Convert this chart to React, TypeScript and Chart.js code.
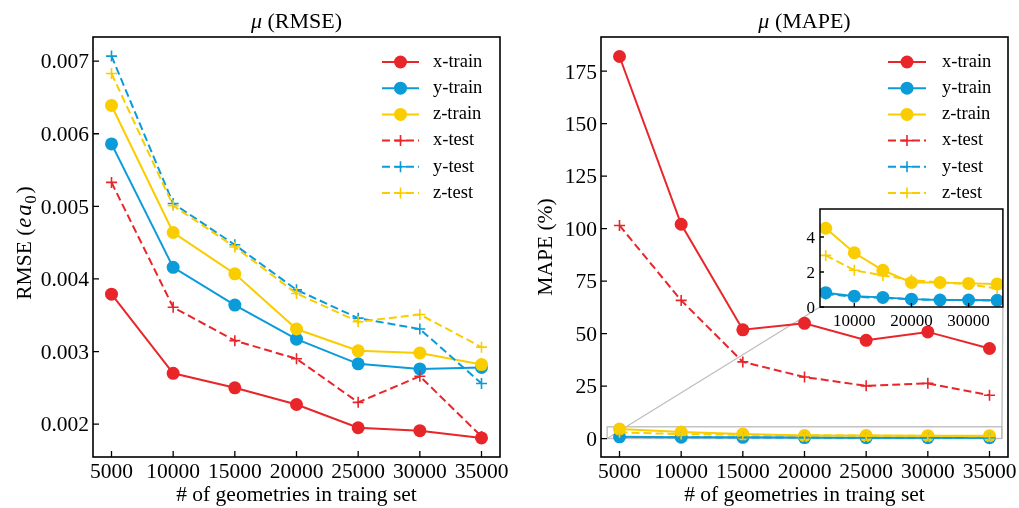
import React, { useEffect, useRef } from 'react';
import { Chart, registerables } from 'chart.js';

Chart.register(...registerables);

// ---------------- data ----------------
const TRAIN_SIZES = [5000, 10000, 15000, 20000, 25000, 30000, 35000];
const SERIES_LABELS = ['x-train', 'y-train', 'z-train', 'x-test', 'y-test', 'z-test'];
const SERIES_COLORS = ['#e8262a', '#0a9bd8', '#f9cd00'];

const RMSE_X_TRAIN = [0.00379, 0.0027, 0.0025, 0.00227, 0.00195, 0.00191, 0.00181];
const RMSE_Y_TRAIN = [0.00586, 0.00416, 0.00364, 0.00317, 0.00283, 0.00276, 0.00278];
const RMSE_Z_TRAIN = [0.00639, 0.00464, 0.00407, 0.00331, 0.00301, 0.00298, 0.00282];
const RMSE_X_TEST = [0.00533, 0.00361, 0.00315, 0.0029, 0.0023, 0.00266, 0.00183];
const RMSE_Y_TEST = [0.00707, 0.00504, 0.00447, 0.00385, 0.00346, 0.00331, 0.00256];
const RMSE_Z_TEST = [0.00683, 0.00501, 0.00444, 0.0038, 0.00341, 0.00351, 0.00306];

const MAPE_X_TRAIN = [182.0, 102.1, 51.8, 54.9, 46.8, 50.8, 42.9];
const MAPE_Y_TRAIN = [0.82, 0.62, 0.55, 0.45, 0.4, 0.4, 0.38];
const MAPE_Z_TRAIN = [4.5, 3.1, 2.1, 1.4, 1.4, 1.35, 1.32];
const MAPE_X_TEST = [101.5, 65.8, 36.5, 29.3, 25.1, 26.3, 20.6];
const MAPE_Y_TEST = [0.75, 0.58, 0.52, 0.44, 0.4, 0.4, 0.36];
const MAPE_Z_TEST = [2.95, 2.1, 1.8, 1.55, 1.4, 1.3, 1.05];

const RMSE_SERIES = [RMSE_X_TRAIN, RMSE_Y_TRAIN, RMSE_Z_TRAIN, RMSE_X_TEST, RMSE_Y_TEST, RMSE_Z_TEST];
const MAPE_SERIES = [MAPE_X_TRAIN, MAPE_Y_TRAIN, MAPE_Z_TRAIN, MAPE_X_TEST, MAPE_Y_TEST, MAPE_Z_TEST];

const X_TICKS = [5000, 10000, 15000, 20000, 25000, 30000, 35000];
const RMSE_Y_TICKS = [0.002, 0.003, 0.004, 0.005, 0.006, 0.007];
const MAPE_Y_TICKS = [0, 25, 50, 75, 100, 125, 150, 175];
const INSET_X_TICKS = [10000, 20000, 30000];
const INSET_Y_TICKS = [0, 2, 4];

const MAIN_X_RANGE: [number, number] = [3500, 36500];
const RMSE_Y_RANGE: [number, number] = [0.001547, 0.007333];
const MAPE_Y_RANGE: [number, number] = [-8.8, 191.3];
const INSET_X_RANGE: [number, number] = [4000, 36000];
const INSET_Y_RANGE: [number, number] = [0, 5.6];

const X_LABEL = '# of geometries in traing set';

// ---------------- helpers ----------------
const SERIF = "'Liberation Serif', 'DejaVu Serif', serif";

type Part = { text: string; italic?: boolean; size?: number; dy?: number; gap?: number };

const RMSE_TITLE: Part[] = [{ text: 'μ', italic: true }, { text: ' (RMSE)' }];
const MAPE_TITLE: Part[] = [{ text: 'μ', italic: true }, { text: ' (MAPE)' }];
const RMSE_Y_LABEL: Part[] = [
  { text: 'RMSE (', gap: 1 },
  { text: 'e', italic: true, size: 22.5, gap: 2 },
  { text: 'a', italic: true, size: 22.5, gap: 1 },
  { text: '0', size: 16, dy: 5, gap: 2 },
  { text: ')' },
];
const MAPE_Y_LABEL: Part[] = [{ text: 'MAPE (%)' }];

function partFont(p: Part, base: number) {
  return `${p.italic ? 'italic ' : ''}${p.size ?? base}px ${SERIF}`;
}

function drawParts(ctx: CanvasRenderingContext2D, parts: Part[], base: number, cx: number, by: number) {
  let total = 0;
  const widths = parts.map((p) => {
    ctx.font = partFont(p, base);
    const w = ctx.measureText(p.text).width + (p.gap ?? 0);
    total += w;
    return w;
  });
  let x = cx - total / 2;
  ctx.textAlign = 'left';
  ctx.textBaseline = 'alphabetic';
  parts.forEach((p, i) => {
    ctx.font = partFont(p, base);
    ctx.fillText(p.text, x, by + (p.dy ?? 0));
    x += widths[i];
  });
}

function drawMarker(ctx: CanvasRenderingContext2D, style: string, x: number, y: number, r: number, color: string, lw: number) {
  ctx.save();
  ctx.setLineDash([]);
  if (style === 'circle') {
    ctx.fillStyle = color;
    ctx.beginPath();
    ctx.arc(x, y, r, 0, Math.PI * 2);
    ctx.fill();
  } else {
    ctx.strokeStyle = color;
    ctx.lineWidth = lw;
    ctx.beginPath();
    ctx.moveTo(x - r, y);
    ctx.lineTo(x + r, y);
    ctx.moveTo(x, y - r);
    ctx.lineTo(x, y + r);
    ctx.stroke();
  }
  ctx.restore();
}

interface PanelCfg {
  axisW: number;
  top: number;
  padRight: number;
  xAxisH: number;
  xRange: [number, number];
  yRange: [number, number];
  xTicks: number[];
  yTicks: number[];
  xFmt: (v: number) => string;
  yFmt: (v: number) => string;
  fontSize: number;
  tickLen: number;
  frameWidth: number;
  xTickBaseline: number;
  yTickGap: number;
  title?: { parts: Part[]; size: number; baseline: number };
  xTitle?: { text: string; size: number; baseline: number };
  yTitle?: { parts: Part[]; size: number; x: number; dyCenter?: number };
  legend?: { handleFromRight: number; handleLen: number; textFromRight: number; firstRow: number; rowGap: number; size: number };
  fillArea?: boolean;
  zoom?: { x: [number, number]; y: [number, number]; corners: () => { bl: [number, number]; br: [number, number] } | null };
  point: { r: number; cr: number; clip?: number };
}

function decorPlugin(cfg: PanelCfg) {
  return {
    id: 'decor',
    beforeDatasetsDraw(chart: any) {
      const ctx: CanvasRenderingContext2D = chart.ctx;
      const a = chart.chartArea;
      if (cfg.fillArea) {
        ctx.save();
        ctx.fillStyle = '#ffffff';
        ctx.fillRect(a.left, a.top, a.right - a.left, a.bottom - a.top);
        ctx.restore();
      }
      if (cfg.zoom) {
        const xs = chart.scales.x;
        const ys = chart.scales.y;
        const x0 = xs.getPixelForValue(cfg.zoom.x[0]);
        const x1 = xs.getPixelForValue(cfg.zoom.x[1]);
        const y0 = ys.getPixelForValue(cfg.zoom.y[0]);
        const y1 = ys.getPixelForValue(cfg.zoom.y[1]);
        ctx.save();
        ctx.strokeStyle = '#bfbfbf';
        ctx.lineWidth = 1.4;
        ctx.strokeRect(x0, y1, x1 - x0, y0 - y1);
        const c = cfg.zoom.corners();
        if (c) {
          ctx.beginPath();
          ctx.moveTo(x0, y0);
          ctx.lineTo(c.bl[0], c.bl[1]);
          ctx.moveTo(x1, y0);
          ctx.lineTo(c.br[0], c.br[1]);
          ctx.stroke();
        }
        ctx.restore();
      }
    },
    afterDraw(chart: any) {
      const ctx: CanvasRenderingContext2D = chart.ctx;
      const a = chart.chartArea;
      const xs = chart.scales.x;
      const ys = chart.scales.y;
      ctx.save();
      // frame
      ctx.strokeStyle = '#000';
      ctx.lineWidth = cfg.frameWidth;
      ctx.strokeRect(a.left, a.top, a.right - a.left, a.bottom - a.top);
      // inward ticks
      ctx.lineWidth = 1.3;
      ctx.beginPath();
      cfg.xTicks.forEach((v) => {
        const px = xs.getPixelForValue(v);
        ctx.moveTo(px, a.bottom);
        ctx.lineTo(px, a.bottom - cfg.tickLen);
      });
      cfg.yTicks.forEach((v) => {
        const py = ys.getPixelForValue(v);
        ctx.moveTo(a.left, py);
        ctx.lineTo(a.left + cfg.tickLen, py);
      });
      ctx.stroke();
      // tick labels
      ctx.fillStyle = '#000';
      ctx.font = `${cfg.fontSize}px ${SERIF}`;
      ctx.textBaseline = 'alphabetic';
      ctx.textAlign = 'center';
      cfg.xTicks.forEach((v) => {
        ctx.fillText(cfg.xFmt(v), xs.getPixelForValue(v), a.bottom + cfg.xTickBaseline);
      });
      ctx.textAlign = 'right';
      cfg.yTicks.forEach((v) => {
        ctx.fillText(cfg.yFmt(v), a.left - cfg.yTickGap, ys.getPixelForValue(v) + 0.34 * cfg.fontSize);
      });
      // titles
      const cx = (a.left + a.right) / 2;
      const cy = (a.top + a.bottom) / 2;
      if (cfg.title) drawParts(ctx, cfg.title.parts, cfg.title.size, cx, cfg.title.baseline);
      if (cfg.xTitle) {
        ctx.font = `${cfg.xTitle.size}px ${SERIF}`;
        ctx.textAlign = 'center';
        ctx.fillText(cfg.xTitle.text, cx, cfg.xTitle.baseline);
      }
      if (cfg.yTitle) {
        ctx.save();
        ctx.translate(cfg.yTitle.x, cy + (cfg.yTitle.dyCenter ?? 0));
        ctx.rotate(-Math.PI / 2);
        drawParts(ctx, cfg.yTitle.parts, cfg.yTitle.size, 0, 0);
        ctx.restore();
      }
      // legend
      if (cfg.legend) {
        const L = cfg.legend;
        chart.data.datasets.forEach((ds: any, i: number) => {
          const y = a.top + L.firstRow + i * L.rowGap;
          const x0 = a.right - L.handleFromRight;
          const x1 = x0 + L.handleLen;
          ctx.save();
          ctx.strokeStyle = ds.borderColor;
          ctx.lineWidth = ds.borderWidth;
          ctx.setLineDash(ds.borderDash || []);
          ctx.beginPath();
          ctx.moveTo(x0, y);
          ctx.lineTo(x1, y);
          ctx.stroke();
          ctx.restore();
          drawMarker(ctx, ds.pointStyle, (x0 + x1) / 2, y, ds.pointRadius, ds.borderColor, ds.pointBorderWidth || 1.6);
          ctx.fillStyle = '#000';
          ctx.font = `${L.size}px ${SERIF}`;
          ctx.textAlign = 'left';
          ctx.textBaseline = 'alphabetic';
          ctx.fillText(ds.label, a.right - L.textFromRight, y + 0.26 * L.size);
        });
      }
      ctx.restore();
    },
  };
}

function makeDatasets(series: number[][], point: { r: number; cr: number; clip?: number }) {
  const n = SERIES_LABELS.length;
  return SERIES_LABELS.map((label, i) => {
    const test = i >= 3;
    const color = SERIES_COLORS[i % 3];
    const ds: any = {
      label,
      data: TRAIN_SIZES.map((x, j) => ({ x, y: series[i][j] })),
      borderColor: color,
      backgroundColor: color,
      borderWidth: 2,
      borderDash: test ? [8, 4] : [],
      pointStyle: test ? 'cross' : 'circle',
      pointRadius: test ? point.cr : point.r,
      pointBorderWidth: test ? 1.6 : 0,
      pointBorderColor: color,
      pointBackgroundColor: color,
      pointHoverRadius: test ? point.cr : point.r,
      tension: 0,
      fill: false,
      order: n - i,
    };
    if (point.clip !== undefined) ds.clip = point.clip;
    return ds;
  });
}

function buildConfig(cfg: PanelCfg, series: number[][]): any {
  return {
    type: 'line',
    data: { datasets: makeDatasets(series, cfg.point) },
    options: {
      responsive: false,
      animation: false,
      devicePixelRatio: 1,
      events: [],
      layout: { padding: { left: 0, top: cfg.top, right: cfg.padRight, bottom: 0 } },
      plugins: { legend: { display: false }, title: { display: false }, tooltip: { enabled: false } },
      scales: {
        x: {
          type: 'linear',
          position: 'bottom',
          min: cfg.xRange[0],
          max: cfg.xRange[1],
          grid: { display: false },
          border: { display: false },
          ticks: { display: false },
          afterBuildTicks: (s: any) => {
            s.ticks = cfg.xTicks.map((v) => ({ value: v }));
          },
          afterFit: (s: any) => {
            s.height = cfg.xAxisH;
            s.paddingLeft = 0;
            s.paddingRight = 0;
            s.paddingTop = 0;
            s.paddingBottom = 0;
          },
        },
        y: {
          type: 'linear',
          position: 'left',
          min: cfg.yRange[0],
          max: cfg.yRange[1],
          grid: { display: false },
          border: { display: false },
          ticks: { display: false },
          afterBuildTicks: (s: any) => {
            s.ticks = cfg.yTicks.map((v) => ({ value: v }));
          },
          afterFit: (s: any) => {
            s.width = cfg.axisW;
            s.paddingLeft = 0;
            s.paddingRight = 0;
            s.paddingTop = 0;
            s.paddingBottom = 0;
          },
        },
      },
    },
    plugins: [decorPlugin(cfg)],
  };
}

// ---------------- layout ----------------
const W = 1019;
const H = 508;
const LEFT_BOX = { left: 0, top: 0, width: 509, height: 508 };
const RIGHT_BOX = { left: 509, top: 0, width: 510, height: 508 };
const INSET_BOX = { left: 790, top: 200, width: 220, height: 140 };

const MAIN_COMMON = {
  top: 37,
  xAxisH: 51,
  fontSize: 21.5,
  tickLen: 6,
  frameWidth: 1.6,
  xTickBaseline: 21,
  yTickGap: 4,
  point: { r: 6.5, cr: 5.5 },
};

export default function App() {
  const leftRef = useRef<HTMLCanvasElement>(null);
  const rightRef = useRef<HTMLCanvasElement>(null);
  const insetRef = useRef<HTMLCanvasElement>(null);

  useEffect(() => {
    const charts: Chart[] = [];
    let inset: any = null;

    const leftCfg: PanelCfg = {
      ...MAIN_COMMON,
      axisW: 93,
      padRight: 9,
      xRange: MAIN_X_RANGE,
      yRange: RMSE_Y_RANGE,
      xTicks: X_TICKS,
      yTicks: RMSE_Y_TICKS,
      xFmt: (v) => String(v),
      yFmt: (v) => v.toFixed(3),
      title: { parts: RMSE_TITLE, size: 22, baseline: 28 },
      xTitle: { text: X_LABEL, size: 21.5, baseline: 501 },
      yTitle: { parts: RMSE_Y_LABEL, size: 21.5, x: 31, dyCenter: -4 },
      legend: { handleFromRight: 118, handleLen: 37, textFromRight: 67, firstRow: 25, rowGap: 26.2, size: 18.5 },
    };

    const insetCfg: PanelCfg = {
      axisW: 30,
      top: 9,
      padRight: 7,
      xAxisH: 33,
      xRange: INSET_X_RANGE,
      yRange: INSET_Y_RANGE,
      xTicks: INSET_X_TICKS,
      yTicks: INSET_Y_TICKS,
      xFmt: (v) => String(v),
      yFmt: (v) => String(v),
      fontSize: 17,
      tickLen: 4,
      frameWidth: 1.5,
      xTickBaseline: 18.7,
      yTickGap: 5,
      fillArea: true,
      point: { r: 6.5, cr: 5.5, clip: 0 },
    };

    const rightCfg: PanelCfg = {
      ...MAIN_COMMON,
      axisW: 92,
      padRight: 11,
      xRange: MAIN_X_RANGE,
      yRange: MAPE_Y_RANGE,
      xTicks: X_TICKS,
      yTicks: MAPE_Y_TICKS,
      xFmt: (v) => String(v),
      yFmt: (v) => String(v),
      title: { parts: MAPE_TITLE, size: 22, baseline: 28 },
      xTitle: { text: X_LABEL, size: 21.5, baseline: 501 },
      yTitle: { parts: MAPE_Y_LABEL, size: 21.5, x: 42.5 },
      legend: { handleFromRight: 120, handleLen: 38, textFromRight: 66, firstRow: 25, rowGap: 26.2, size: 18.5 },
      zoom: {
        x: INSET_X_RANGE,
        y: INSET_Y_RANGE,
        corners: () => {
          if (!inset || !inset.chartArea) return null;
          const a = inset.chartArea;
          const dx = INSET_BOX.left - RIGHT_BOX.left;
          const dy = INSET_BOX.top - RIGHT_BOX.top;
          return { bl: [a.left + dx, a.bottom + dy], br: [a.right + dx, a.bottom + dy] };
        },
      },
    };

    charts.push(new Chart(leftRef.current as HTMLCanvasElement, buildConfig(leftCfg, RMSE_SERIES)));
    inset = new Chart(insetRef.current as HTMLCanvasElement, buildConfig(insetCfg, MAPE_SERIES));
    charts.push(inset);
    const right = new Chart(rightRef.current as HTMLCanvasElement, buildConfig(rightCfg, MAPE_SERIES));
    charts.push(right);
    right.draw();

    return () => charts.forEach((c) => c.destroy());
  }, []);

  const boxStyle = (b: { left: number; top: number; width: number; height: number }): React.CSSProperties => ({
    position: 'absolute',
    left: b.left,
    top: b.top,
    width: b.width,
    height: b.height,
  });

  return (
    <div style={{ position: 'fixed', left: 0, top: 0, width: W, height: H, background: '#fff', overflow: 'hidden' }}>
      <canvas ref={leftRef} width={LEFT_BOX.width} height={LEFT_BOX.height} style={boxStyle(LEFT_BOX)} />
      <canvas ref={rightRef} width={RIGHT_BOX.width} height={RIGHT_BOX.height} style={boxStyle(RIGHT_BOX)} />
      <canvas ref={insetRef} width={INSET_BOX.width} height={INSET_BOX.height} style={boxStyle(INSET_BOX)} />
    </div>
  );
}
